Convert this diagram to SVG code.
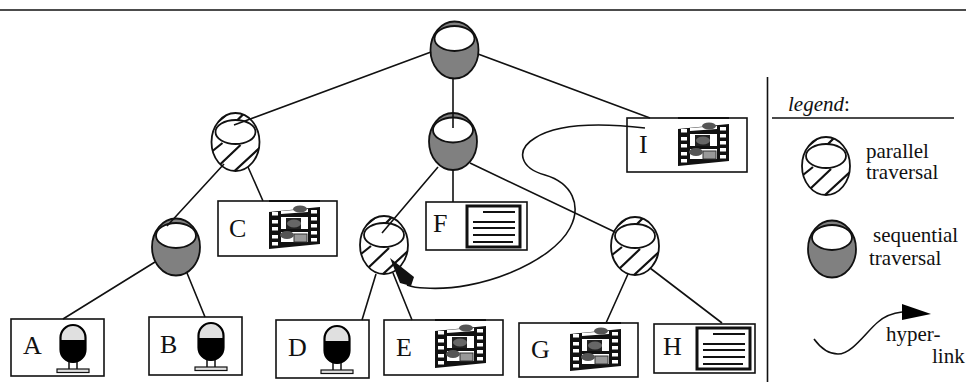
<svg xmlns="http://www.w3.org/2000/svg" width="966" height="383" viewBox="0 0 966 383">
<style>
text{font-family:"Liberation Serif","Times New Roman",serif;fill:#111}
.lab{font-size:26px}
.leg{font-size:21px}
.box{fill:#fff;stroke:#111;stroke-width:1.6}
.ln{stroke:#111;stroke-width:1.6;fill:none}
.ht{stroke:#111;stroke-width:2.2;fill:none}
.ol{stroke:#111;stroke-width:1.8}
.in{fill:#fff;stroke:#111;stroke-width:1.8}
</style>
<defs>
<clipPath id="cp"><ellipse cx="0" cy="0" rx="24" ry="29"/></clipPath>
<g id="par">
<ellipse class="ol" rx="24" ry="29" fill="#fff"/>
<g clip-path="url(#cp)" class="ht"><path d="M-23 9L-13 1M-16 23L5 3M-1 29L25 5M-20 -18L-8 -28M0 -20L10 -30"/></g>
<ellipse class="in" cy="-10" rx="20" ry="12"/>
</g>
<g id="seq">
<ellipse class="ol" rx="24" ry="28.500" fill="#808080"/>
<ellipse class="in" cy="-11.500" rx="20" ry="12.500"/>
</g>
<g id="film">
<path d="M0 -8H51" stroke="#111" stroke-width="1.800"/>
<path d="M0 3L51 -2V35L0 40Z" fill="#111"/>
<path d="M3 3h6v3.500h-6zM3 11h6v3.500h-6zM3 18h6v3.500h-6zM3 26h6v3.500h-6zM3 33h6v3.500h-6zM42 1h6v3.500h-6zM42 8h6v3.500h-6zM42 15h6v3.500h-6zM42 22h6v3.500h-6zM42 29h6v3.500h-6z" fill="#fff"/>
<path d="M12 2L39 0V3L12 5ZM12 8H39V20H12ZM12 23H39V33H12Z" fill="#fff"/>
<ellipse cx="31" cy="0" rx="7" ry="3.500" fill="#555"/>
<rect x="17" y="9" width="15" height="11" fill="#222"/>
<ellipse cx="25" cy="14.500" rx="7" ry="4" fill="#666"/>
<rect x="25" y="25" width="13" height="8" fill="#999" stroke="#333"/>
<ellipse cx="18" cy="26" rx="7" ry="4" fill="#555"/>
</g>
<g id="doc">
<rect x="0" y="0" width="53" height="41" fill="#fff" stroke="#111" stroke-width="3"/>
<path d="M16 6H48M6 16H48M6 22H48M6 29H48M6 36H46" stroke="#111" stroke-width="1.800"/>
</g>
<g id="mic">
<rect x="13" y="37" width="8" height="9" fill="#fff" stroke="#111" stroke-width="1.500"/>
<rect x="1" y="45" width="32" height="3.500" fill="#e0e0e0" stroke="#111" stroke-width="1.200"/>
<path d="M4.500 16V13A12.500 12.500 0 0 1 29.500 13V16Z" fill="#e0e0e0"/>
<path d="M4.500 16H29.500V26A12.500 12.500 0 0 1 4.500 26Z" fill="#000"/>
<rect x="4.500" y="1" width="25" height="37" rx="12.500" fill="none" stroke="#000" stroke-width="2.200"/>
</g>
</defs>
<path class="ln" d="M0 10H966"/>
<path class="ln" d="M767.500 77V382M772 118H954"/>
<g id="n-root"><use href="#seq" x="454.500" y="50"/></g>
<g id="n-seq2"><use href="#seq" x="453" y="141.500"/></g>
<g id="n-para1"><use href="#par" x="235.500" y="142"/></g>
<g id="n-seq1"><use href="#seq" x="176" y="247"/></g>
<g id="n-para2"><use href="#par" x="384" y="245"/></g>
<g id="n-para3"><use href="#par" x="635" y="246"/></g>
<g id="n-I"><rect class="box" x="627" y="118" width="120" height="54"/><use href="#film" x="678" y="126"/><text class="lab" x="639" y="153">I</text></g>
<g id="n-C"><rect class="box" x="218" y="201" width="119" height="55"/><use href="#film" x="269" y="209"/><text class="lab" x="229" y="237">C</text></g>
<g id="n-F"><rect class="box" x="426" y="202" width="101" height="48"/><use href="#doc" x="467" y="206"/><text class="lab" x="433" y="232">F</text></g>
<g id="n-A"><rect class="box" x="11" y="319" width="93" height="57"/><use href="#mic" x="56" y="324"/><text class="lab" x="23" y="354">A</text></g>
<g id="n-B"><rect class="box" x="149" y="317" width="93" height="58"/><use href="#mic" x="194" y="322"/><text class="lab" x="160" y="353">B</text></g>
<g id="n-D"><rect class="box" x="276" y="320" width="93" height="58"/><use href="#mic" x="320" y="325"/><text class="lab" x="288" y="356">D</text></g>
<g id="n-E"><rect class="box" x="384" y="320" width="119" height="55"/><use href="#film" x="435" y="328"/><text class="lab" x="396" y="356">E</text></g>
<g id="n-G"><rect class="box" x="519" y="323" width="119" height="54"/><use href="#film" x="570" y="331"/><text class="lab" x="531" y="358">G</text></g>
<g id="n-H"><rect class="box" x="654" y="324" width="101" height="49"/><use href="#doc" x="697" y="328"/><text class="lab" x="663" y="355">H</text></g>
<g id="connectors">
<path class="ln" d="M431 52L234 125M453 78V128M478 54L650 118M224 164L167 226M248 167L263 201M155 262L63 319M187 273L205 317M438 167L382 233M453 170V202M470 163L615 232M376 274L362 320M393 273L412 320M628 274L606 323M650 268L722 323"/>
<path class="ln" d="M645 128C610 124 560 122 535 138C515 150 520 168 545 175C572 183 582 205 570 228C552 262 480 292 425 288C418 288 412 287 407 285"/>
<path d="M390 258L414 277L411 286L400 283Z" fill="#111"/>
</g>
<g id="legend">
<text class="leg" x="788" y="111"><tspan font-style="italic">legend</tspan>:</text>
<use href="#par" x="826" y="166"/>
<text class="leg" x="866" y="158" font-size="20">parallel</text>
<text class="leg" x="866" y="179">traversal</text>
<use href="#seq" x="832" y="249"/>
<text class="leg" x="873" y="242">sequential</text>
<text class="leg" x="869" y="265">traversal</text>
<path class="ln" d="M814 339C822 350 830 354 838 354C852 354 866 332 878 322C886 315 893 313 902 312"/>
<path d="M902 304L931 314L902 320Z" fill="#000"/>
<text class="leg" x="886" y="341">hyper-</text>
<text class="leg" x="932" y="363">link</text>
</g>
</svg>
